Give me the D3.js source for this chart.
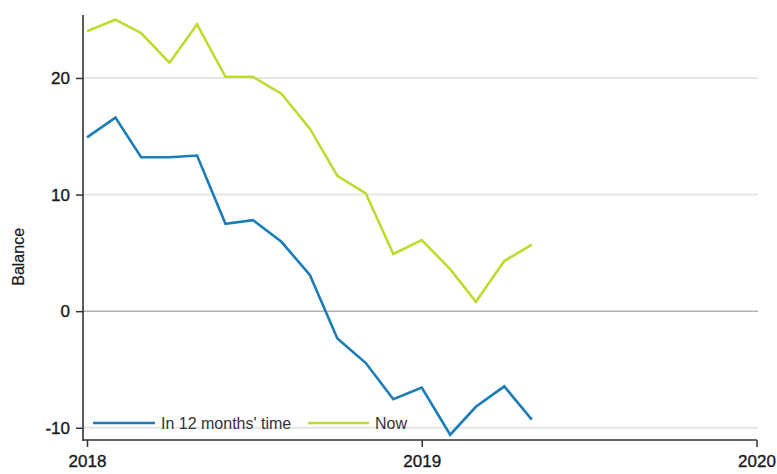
<!DOCTYPE html>
<html>
<head>
<meta charset="utf-8">
<script src="https://cdn.jsdelivr.net/npm/d3@7"></script>
<style>
  html, body { margin: 0; padding: 0; background: #fff; }
  svg { display: block; font-family: "Liberation Sans", Arial, sans-serif; }
</style>
</head>
<body>
<svg id="chart" width="777" height="474"></svg>
<script>
// ---- data ----
const months = ["2018-01","2018-02","2018-03","2018-04","2018-05","2018-06","2018-07","2018-08","2018-09","2018-10","2018-11","2018-12","2019-01","2019-02","2019-03","2019-04","2019-05"];
const in12Months = [14.9, 16.6, 13.2, 13.2, 13.35, 7.5, 7.8, 5.95, 3.1, -2.35, -4.45, -7.55, -6.55, -10.6, -8.2, -6.45, -9.3];
const nowValues = [24.0, 25.0, 23.85, 21.3, 24.6, 20.1, 20.1, 18.65, 15.65, 11.6, 10.1, 4.9, 6.1, 3.6, 0.8, 4.3, 5.7];
const seriesNames = ["In 12 months' time", "Now"];
const yTicks = [-10, 0, 10, 20];
const xTickYears = ["2018", "2019", "2020"];
const yLabel = "Balance";

const colors = ["#1a7db8", "#c2d92e"];

const parseM = d3.timeParse("%Y-%m");
const parseY = d3.timeParse("%Y");
const dates = months.map(parseM);

const svg = d3.select("#chart");

const axisLeftX = 83, axisBottomY = 440, axisTopY = 15, plotRight = 758;

const x = d3.scaleTime()
  .domain([parseY("2018"), parseY("2020")])
  .range([87, 756.5]);
const y = d3.scaleLinear()
  .domain([-11.05, 25.4])
  .range([axisBottomY, axisTopY]);

// gridlines
svg.append("g").selectAll("line")
  .data(yTicks.filter(v => v !== 0))
  .join("line")
  .attr("x1", axisLeftX).attr("x2", plotRight)
  .attr("y1", d => y(d)).attr("y2", d => y(d))
  .attr("stroke", "#e6e6e6").attr("stroke-width", 2);

// zero line
svg.append("line")
  .attr("x1", axisLeftX).attr("x2", plotRight)
  .attr("y1", y(0)).attr("y2", y(0))
  .attr("stroke", "#8c8c8c").attr("stroke-width", 1);

// lines
const series = [in12Months, nowValues];
const line = d3.line().x((d, i) => x(dates[i])).y(d => y(d));
series.forEach((s, k) => {
  svg.append("path")
    .datum(s)
    .attr("d", line)
    .attr("fill", "none")
    .attr("stroke", colors[k])
    .attr("stroke-width", 2.6)
    .attr("stroke-linejoin", "miter");
});

function styleText(sel, size) {
  sel.attr("font-size", size).attr("fill", "#1a1a1a")
    .attr("stroke", "#1a1a1a").attr("stroke-width", 0.35)
    .attr("font-family", "Liberation Sans, Arial, sans-serif");
}

// y axis
const yAxis = d3.axisLeft(y).tickValues(yTicks).tickSize(7).tickPadding(6).tickFormat(d => String(d));
const gy = svg.append("g").attr("transform", `translate(${axisLeftX},0)`).call(yAxis);
gy.select(".domain").remove();
gy.selectAll(".tick line").attr("stroke", "#333").attr("stroke-width", 1.5);
styleText(gy.selectAll(".tick text"), 17);
svg.append("line")
  .attr("x1", axisLeftX).attr("x2", axisLeftX)
  .attr("y1", axisTopY).attr("y2", axisBottomY + 1)
  .attr("stroke", "#333").attr("stroke-width", 1.6);

// x axis
const xAxis = d3.axisBottom(x).tickValues(xTickYears.map(parseY)).tickSize(7).tickPadding(8).tickFormat(d3.timeFormat("%Y"));
const gx = svg.append("g").attr("transform", `translate(0,${axisBottomY})`).call(xAxis);
gx.select(".domain").remove();
gx.selectAll(".tick line").attr("stroke", "#333").attr("stroke-width", 1.5);
styleText(gx.selectAll(".tick text"), 17);
svg.append("line")
  .attr("x1", axisLeftX).attr("x2", 757)
  .attr("y1", axisBottomY).attr("y2", axisBottomY)
  .attr("stroke", "#333").attr("stroke-width", 1.6);

// y label
const yl = svg.append("text")
  .attr("transform", `translate(24,${(y(10) + y(0)) / 2 + 4}) rotate(-90)`)
  .attr("text-anchor", "middle")
  .text(yLabel);
styleText(yl, 16);
yl.attr("stroke-width", 0.2);

// legend
const legendItems = [
  { x1: 93, x2: 155, tx: 161 },
  { x1: 308, x2: 369, tx: 375 }
];
legendItems.forEach((it, k) => {
  svg.append("line")
    .attr("x1", it.x1).attr("x2", it.x2)
    .attr("y1", 423).attr("y2", 423)
    .attr("stroke", colors[k]).attr("stroke-width", 2.6);
  svg.append("text")
    .attr("x", it.tx).attr("y", 428.5)
    .attr("font-size", 16)
    .attr("fill", "#333")
    .text(seriesNames[k]);
});
</script>
</body>
</html>
